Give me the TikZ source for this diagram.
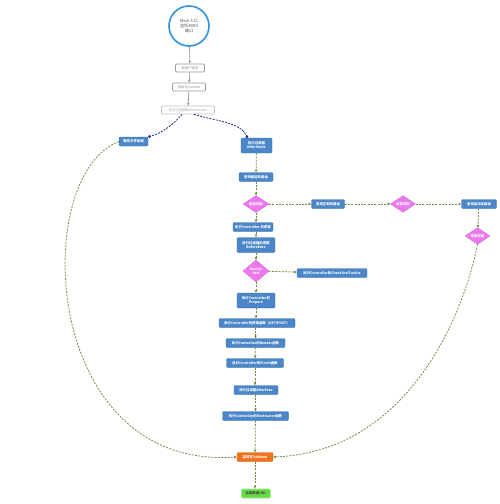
\documentclass[tikz,border=0pt]{standalone}
\usepackage{fontspec}
\setmainfont{Noto Sans CJK SC}
\usepackage{xcolor}
\definecolor{bfblue}{HTML}{4A86C8}
\definecolor{bfring}{HTML}{2F93E0}
\definecolor{bfgray}{HTML}{9A9A9A}
\definecolor{bfpink}{HTML}{EE78EE}
\definecolor{bfolive}{HTML}{6E8B3D}
\definecolor{bfnavy}{HTML}{1E2A8C}
\definecolor{bforange}{HTML}{F0711E}
\definecolor{bfgreen}{HTML}{66DD44}
\usepackage{tikz}
\usetikzlibrary{positioning,shapes.geometric,arrows.meta,calc}

\begin{document}
\begin{tikzpicture}[
      x=1pt, y=-1pt,
      font=\fontsize{3.4}{4.1}\selectfont,
      blk/.style={rounded corners=1.2pt, fill=bfblue, draw=bfblue!85!black,
                  line width=0.3pt, text=white, minimum height=9pt,
                  align=center, inner sep=1pt, font=\fontsize{3.4}{4.1}\selectfont\bfseries},
      gbox/.style={rounded corners=1.2pt, fill=white, draw=bfgray,
                   line width=0.7pt, text=bfgray!90!black, minimum height=8pt,
                   align=center, inner sep=1pt},
      ask/.style={diamond, fill=bfpink, draw=bfpink!80!black, line width=0.2pt,
                  text=white, inner sep=0pt, minimum width=26pt,
                  minimum height=17pt, align=center,
                  font=\fontsize{3.4}{4.1}\selectfont\bfseries},
      fl/.style={-{Triangle[length=2.8pt, width=2.4pt]}, draw=bfolive,
                 line width=0.75pt, dash pattern=on 2pt off 1.3pt},
      gl/.style={-{Triangle[length=2.8pt, width=2.4pt]}, draw=bfgray,
                 line width=0.7pt},
      jmp/.style={-{Circle[length=2.8pt]}, draw=bfnavy, line width=0.8pt,
                  dash pattern=on 2pt off 1.2pt},
    ]
    \useasboundingbox[fill=white] (0,0) rectangle (500,504);

    % ---------- entry ----------
    \node[circle, draw=bfring, line width=1.6pt, fill=white, minimum size=40pt,
          inner sep=0pt, align=center, text=black!65,
          font=\fontsize{4.2}{5.2}\selectfont] (main) at (189,26)
      {Main入口\\监听8080\\端口};
    \node[gbox, minimum width=29pt] (req) at (190,68) {新用户请求};
    \node[gbox, minimum width=33pt] (ctx) at (189,87) {初始化Context};
    \node[gbox, minimum width=53pt, draw=bfgray!60, text=bfgray!90] (br)
      at (188,110) {执行过滤器BeforeRouter};

    % ---------- routing ----------
    \node[blk, minimum width=29pt] (static) at (133.5,141.5) {静态文件处理};
    \node[blk, minimum width=31pt, minimum height=15pt] (as) at (256.5,145.5)
      {执行过滤器\\AfterStatic};
    \node[blk, minimum width=34pt] (fixed) at (256,177) {查找固定的路由};
    \node[ask] (m1) at (256,204) {是否匹配};
    \node[blk, minimum width=33pt] (regex) at (328,204) {查找正则的路由};
    \node[ask, minimum width=25pt, minimum height=15pt] (m2) at (403,204) {是否匹配};
    \node[blk, minimum width=35pt] (auto) at (479,204) {查找自动化路由};
    \node[ask, minimum width=25pt, minimum height=13pt] (m3) at (477.5,236) {是否匹配};

    % ---------- controller ----------
    \node[blk, minimum width=40pt] (init) at (253,227) {执行Controller 的逻辑};
    \node[blk, minimum width=38pt, minimum height=15pt] (bx) at (256,245)
      {执行过滤器的逻辑\\BeforeExec};
    \node[ask, minimum height=22pt] (xsrf) at (256,271) {Enable\\Xsrf};
    \node[blk, minimum width=70pt] (chk) at (332,273) {执行Controller的CheckXsrfCookie};
    \node[blk, minimum width=38pt, minimum height=15pt] (prep) at (256,300.5)
      {执行Controller的\\Prepare};
    \node[blk, minimum width=76pt] (logic) at (257,323) {执行Controller的逻辑函数（GET/POST）};
    \node[blk, minimum width=59pt] (render) at (255.5,343) {执行Controller的Render函数};
    \node[blk, minimum width=57pt] (finish) at (255,363) {执行Controller的Finish函数};
    \node[blk, minimum width=44pt] (ae) at (256,390) {执行过滤器AfterExec};
    \node[blk, minimum width=66pt] (dtor) at (255.5,416) {执行Controller的Destructor函数};

    % ---------- output ----------
    \node[blk, fill=bforange, draw=bforange!85!black, minimum width=36pt]
      (admin) at (255,457) {监控写入Admin};
    \node[blk, fill=bfgreen, draw=bfgreen!60, line width=0.8pt, text=black!70,
          minimum width=29pt] (url) at (256,493.5) {返回数据URL};

    % ---------- flow ----------
    \draw[gl] (main) -- (req);
    \draw[gl] (req) -- (ctx);
    \draw[gl] (ctx) -- (br);
    \draw[jmp] ([xshift=-6pt]br.south) .. controls (172,126) and (160,134)
      .. (static.north east);
    \draw[jmp] ([xshift=6pt]br.south) .. controls (215,121) and (240,122)
      .. ([xshift=-9pt]as.north);
    \draw[fl] (as) -- (fixed);
    \draw[fl] (fixed) -- (m1);
    \draw[fl] (m1) -- (regex);
    \draw[fl] (regex) -- (m2);
    \draw[fl] (m2) -- (auto);
    \draw[fl] (auto) -- (m3);
    \draw[fl] (m1) -- (m1 |- init.north);
    \draw[fl] (init.south -| bx) -- (bx);
    \draw[fl] (bx) -- (xsrf);
    \draw[fl] (xsrf) -- (chk);
    \draw[fl] (xsrf) -- (prep);
    \draw[fl] (prep) -- (prep |- logic.north);
    \draw[fl] (logic.south -| render) -- (render);
    \draw[fl] (render) -- (finish);
    \draw[fl] (finish) -- (finish |- ae.north);
    \draw[fl] (ae.south -| dtor) -- (dtor);
    \draw[fl] (dtor) -- (admin);
    \draw[fl] (admin) -- (admin |- url.north);
    \draw[fl] (static.west) .. controls (30,175) and (40,470) .. (admin.west);
    \draw[fl] (m3.south) .. controls (460,330) and (400,452) .. (admin.east);

  \end{tikzpicture}
\end{document}
